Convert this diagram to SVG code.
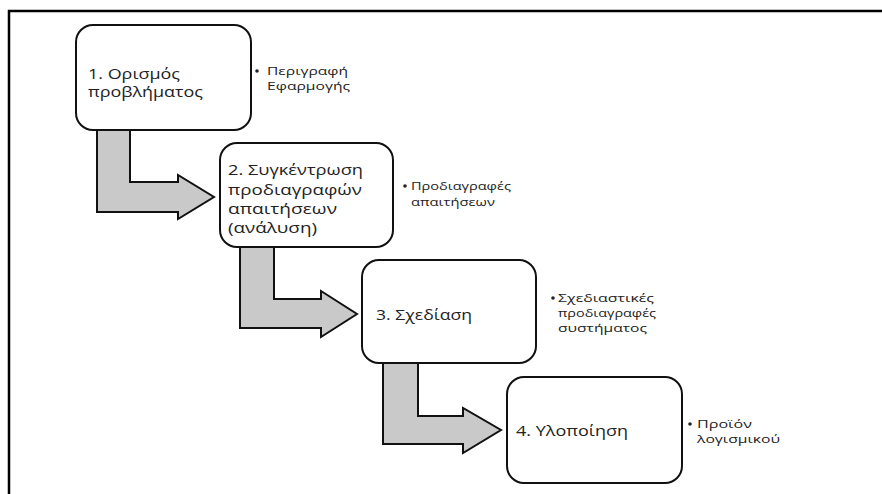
<svg xmlns="http://www.w3.org/2000/svg" width="882" height="494" viewBox="0 0 882 494">
<defs>
<style>
.frame{fill:none;stroke:#000;stroke-width:2.5}
.box{fill:#fff;stroke:#111;stroke-width:2}
.arrow{fill:#c9c9c9;stroke:#111;stroke-width:2;stroke-linejoin:miter}
.main{font-family:"Open Sans","Noto Sans","DejaVu Sans",sans-serif;font-size:14.5px;fill:#222}
.note{font-family:"Open Sans","Noto Sans","DejaVu Sans",sans-serif;font-size:11.5px;fill:#222}
.dot{fill:#222}
</style>
</defs>
<rect width="882" height="494" fill="#fff"/>
<path class="frame" d="M9,494 L9,11 L882,11"/>
<g id="connectors">
<path class="arrow" d="M97,128 L130,128 L130,182 L178,182 L178,175 L214,197 L178,219 L178,212 L97,212 Z"/>
<path class="arrow" d="M240,245 L274,245 L274,299 L321,299 L321,291 L357,314 L321,337 L321,328 L240,328 Z"/>
<path class="arrow" d="M383,361 L418,361 L418,416 L463,416 L463,408 L501,430 L463,453 L463,444 L383,444 Z"/>
</g>
<g id="node1">
<rect class="box" x="76" y="25" width="175" height="105" rx="17"/>
<text class="main" x="88" y="79" textLength="92" lengthAdjust="spacingAndGlyphs">1. Ορισμός</text>
<text class="main" x="88" y="97" textLength="115" lengthAdjust="spacingAndGlyphs">προβλήματος</text>
<circle class="dot" cx="257" cy="71" r="1.8"/>
<text class="note" x="267" y="75" textLength="81" lengthAdjust="spacingAndGlyphs">Περιγραφή</text>
<text class="note" x="267" y="90" textLength="83" lengthAdjust="spacingAndGlyphs">Εφαρμογής</text>
</g>
<g id="node2">
<rect class="box" x="220" y="143" width="173" height="104" rx="17"/>
<text class="main" x="228" y="175" textLength="135" lengthAdjust="spacingAndGlyphs">2. Συγκέντρωση</text>
<text class="main" x="228" y="195" textLength="134" lengthAdjust="spacingAndGlyphs">προδιαγραφών</text>
<text class="main" x="228" y="214" textLength="109" lengthAdjust="spacingAndGlyphs">απαιτήσεων</text>
<text class="main" x="228" y="233" textLength="89" lengthAdjust="spacingAndGlyphs">(ανάλυση)</text>
<circle class="dot" cx="405" cy="186" r="1.8"/>
<text class="note" x="411" y="190" textLength="100" lengthAdjust="spacingAndGlyphs">Προδιαγραφές</text>
<text class="note" x="411" y="206" textLength="84" lengthAdjust="spacingAndGlyphs">απαιτήσεων</text>
</g>
<g id="node3">
<rect class="box" x="362" y="260" width="174" height="103" rx="17"/>
<text class="main" x="376" y="320" textLength="96" lengthAdjust="spacingAndGlyphs">3. Σχεδίαση</text>
<circle class="dot" cx="553" cy="298" r="1.8"/>
<text class="note" x="558" y="302" textLength="96" lengthAdjust="spacingAndGlyphs">Σχεδιαστικές</text>
<text class="note" x="558" y="317" textLength="98" lengthAdjust="spacingAndGlyphs">προδιαγραφές</text>
<text class="note" x="558" y="332" textLength="89" lengthAdjust="spacingAndGlyphs">συστήματος</text>
</g>
<g id="node4">
<rect class="box" x="507" y="377" width="175" height="106" rx="17"/>
<text class="main" x="516" y="436" textLength="112" lengthAdjust="spacingAndGlyphs">4. Υλοποίηση</text>
<circle class="dot" cx="690" cy="424" r="1.8"/>
<text class="note" x="697" y="428" textLength="55" lengthAdjust="spacingAndGlyphs">Προϊόν</text>
<text class="note" x="697" y="443" textLength="83" lengthAdjust="spacingAndGlyphs">λογισμικού</text>
</g>
</svg>
